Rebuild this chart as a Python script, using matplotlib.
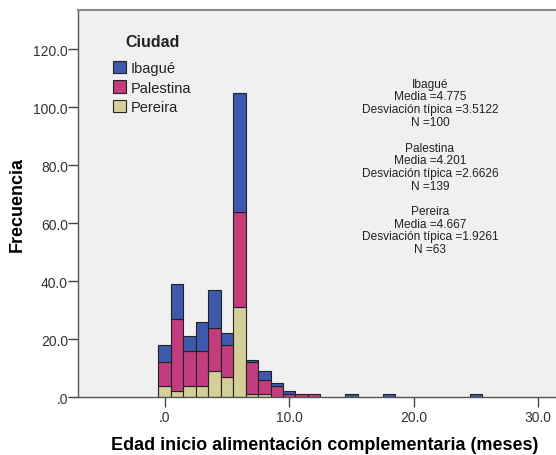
import matplotlib
matplotlib.use("Agg")
import matplotlib.pyplot as plt
from matplotlib.patches import Patch
from matplotlib.ticker import FuncFormatter, FixedLocator

plt.rcParams['font.family'] = ['Liberation Sans', 'DejaVu Sans']

# Data: histogram counts per month (bins centred on integer months)
months = [0, 1, 2, 3, 4, 5, 6, 7, 8, 9, 10, 11, 12, 15, 18, 25]
pereira = [4, 2, 4, 4, 9, 7, 31, 1, 1, 0, 0, 0, 0, 0, 0, 0]
palestina = [8, 25, 12, 12, 15, 11, 33, 11, 5, 4, 1, 1, 1, 0, 0, 0]
ibague = [6, 12, 5, 10, 13, 4, 41, 1, 3, 1, 1, 0, 0, 1, 1, 1]
cities = ["Ibagué", "Palestina", "Pereira"]
stats = [
    ["Ibagué", "Media =4.775", "Desviación típica =3.5122", "N =100"],
    ["Palestina", "Media =4.201", "Desviación típica =2.6626", "N =139"],
    ["Pereira", "Media =4.667", "Desviación típica =1.9261", "N =63"],
]
x_ticks = [0, 10, 20, 30]
y_ticks = [0, 20, 40, 60, 80, 100, 120]

col_ibague = "#3e58ac"
col_palestina = "#c23d7e"
col_pereira = "#d4cf98"
bg = "#f0f0f0"
W, H = 556, 456

fig = plt.figure(figsize=(W / 100, H / 100), dpi=100)
fig.patch.set_facecolor("white")
left, right, top, bottom = 78.3, 572, 11, 398.3
ax = fig.add_axes([left / W, 1 - bottom / H, (right - left) / W, (bottom - top) / H])
ax.set_facecolor(bg)

x_per_px = 1 / 12.45
ax.set_xlim((left - 164.7) * x_per_px, (right - 164.7) * x_per_px)
ax.set_ylim(0, (bottom - top) / 2.9025)

ekw = dict(width=1.0, edgecolor="#222222", linewidth=0.8, align="center")
bot2 = [a + b for a, b in zip(pereira, palestina)]
ax.bar([m for m, v in zip(months, pereira) if v > 0],
       [v for v in pereira if v > 0], color=col_pereira, **ekw)
ax.bar([m for m, v in zip(months, palestina) if v > 0],
       [v for v in palestina if v > 0],
       bottom=[b for b, v in zip(pereira, palestina) if v > 0],
       color=col_palestina, **ekw)
ax.bar([m for m, v in zip(months, ibague) if v > 0],
       [v for v in ibague if v > 0],
       bottom=[b for b, v in zip(bot2, ibague) if v > 0],
       color=col_ibague, **ekw)

def fmt(v, pos):
    s = f"{v:.1f}"
    return s[1:] if s.startswith("0") else s

ax.xaxis.set_major_locator(FixedLocator(x_ticks))
ax.yaxis.set_major_locator(FixedLocator(y_ticks))
ax.xaxis.set_major_formatter(FuncFormatter(fmt))
ax.yaxis.set_major_formatter(FuncFormatter(fmt))
ax.tick_params(axis="both", direction="out", length=7, width=1, color="#444444",
               labelsize=10, labelcolor="#333333")
ax.tick_params(axis="y", pad=0.5)
ax.tick_params(axis="x", pad=2)
for s in ["left", "bottom", "top"]:
    ax.spines[s].set_color("#555555")
    ax.spines[s].set_linewidth(1)
ax.spines["top"].set_color("#888888")
ax.spines["top"].set_linewidth(1.5)
ax.spines["right"].set_visible(False)

ax.set_xlabel("Edad inicio alimentación complementaria (meses)", fontsize=13,
              fontweight="bold", labelpad=9)
ax.set_ylabel("Frecuencia", fontsize=13, fontweight="bold", labelpad=5)

# legend: title drawn separately, entries as a frameless legend
fig.text(152.5 / W, 1 - 42.7 / H, "Ciudad", ha="center", va="center",
         fontsize=11.5, fontweight="bold", color="#222222")
handles = [Patch(facecolor=c, edgecolor="#222222", linewidth=0.8)
           for c in [col_ibague, col_palestina, col_pereira]]
leg = ax.legend(handles, cities, loc="upper left",
                bbox_to_anchor=(113 / W, 1 - 62 / H), bbox_transform=fig.transFigure,
                frameon=False, fontsize=10.5, handlelength=0.9, handleheight=0.9,
                handletextpad=0.3, labelspacing=0.37, borderpad=0, borderaxespad=0)
for t in leg.get_texts():
    t.set_color("#222222")

block_y = [85, 149, 212.3]
for block, y0 in zip(stats, block_y):
    for i, line in enumerate(block):
        fig.text(430 / W, 1 - (y0 + i * 12.5) / H, line, ha="center", va="center",
                 fontsize=8.6, color="#222222")

fig.savefig("out.png", dpi=100)
